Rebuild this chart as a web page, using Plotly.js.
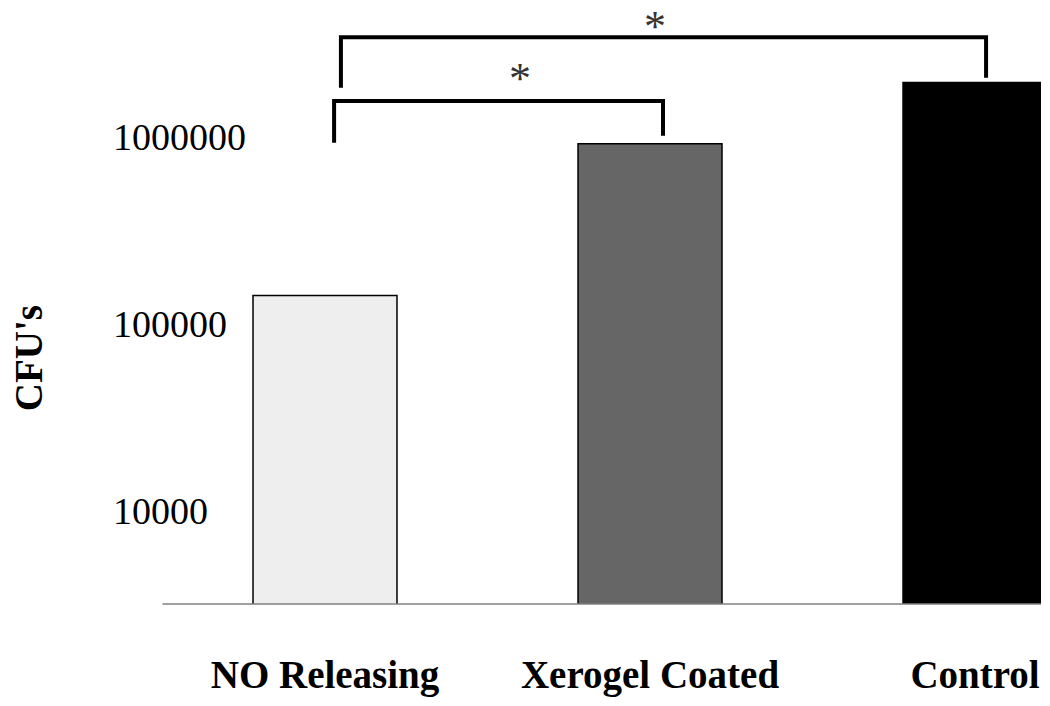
<!DOCTYPE html>
<html>
<head>
<meta charset="utf-8">
<script src="https://cdn.plot.ly/plotly-3.0.1.min.js"></script>
<style>
  body { margin: 0; background: #fff; }
  #chart { width: 1050px; height: 706px; }
</style>
</head>
<body>
<div id="chart"></div>
<script>
// data (log scale)
var groups = ['NO Releasing', 'Xerogel Coated', 'Control'];
var cfus = [142000, 920000, 1960000];
var barColors = ['#eeeeee', '#666666', '#000000'];
var yTicks = [10000, 100000, 1000000];
var yTickText = ['10000', '100000', '1000000'];

// significance brackets: [from group, to group, left leg bottom, bar height, right leg bottom]
var brackets = [
  [0.028, 1.04, 933000, 1560000, 1016000],
  [0.049, 2.034, 1840000, 3420000, 2080000]
];
// asterisks: [x, top of text box]
var starPos = [[0.6, 2840000], [1.015, 5420000]];

var serif = 'Liberation Serif, Times New Roman, serif';

var trace = {
  type: 'bar',
  x: groups,
  y: cfus,
  width: 0.443,
  marker: {
    color: barColors,
    line: { color: '#000000', width: 1.5 }
  },
  hoverinfo: 'x+y'
};

var shapes = [];
// the baseline starts at the first category's left half
shapes.push({
  type: 'line', xref: 'x', yref: 'paper',
  x0: -0.5, x1: 2.21, y0: 0, y1: 0,
  line: { color: '#808080', width: 1.5 }
});
brackets.forEach(function (b) {
  var path = 'M ' + b[0] + ',' + b[2] +
    ' L ' + b[0] + ',' + b[3] +
    ' L ' + b[1] + ',' + b[3] +
    ' L ' + b[1] + ',' + b[4];
  shapes.push({
    type: 'path', xref: 'x', yref: 'y', path: path,
    line: { color: '#000000', width: 4 }
  });
});

var annotations = starPos.map(function (s) {
  return {
    xref: 'x', yref: 'y', x: s[0], y: Math.log10(s[1]),
    yanchor: 'top',
    text: '*', showarrow: false,
    font: { family: serif, size: 44, color: '#333333' }
  };
});
annotations.push({
  xref: 'paper', yref: 'paper', x: -0.088, y: 0.407,
  xanchor: 'center', yanchor: 'middle',
  text: "<b>CFU's</b>", textangle: -90, showarrow: false,
  font: { family: serif, size: 39, color: '#000000' }
});

var layout = {
  width: 1050,
  height: 706,
  margin: { l: 110, r: 9, t: 0, b: 102 },
  paper_bgcolor: '#ffffff',
  plot_bgcolor: '#ffffff',
  showlegend: false,
  xaxis: {
    type: 'category',
    range: [-0.6615, 2.203],
    showline: false,
    showgrid: false,
    zeroline: false,
    ticks: '',
    tickvals: groups,
    ticktext: groups.map(function (g) { return '<b>' + g + '</b>'; }),
    ticklabelstandoff: 44,
    tickfont: { family: serif, size: 39, color: '#000000' }
  },
  yaxis: {
    type: 'log',
    range: [3.5, 6.734],
    showline: false,
    showgrid: false,
    zeroline: false,
    ticks: '',
    tickvals: yTicks,
    ticktext: yTickText,
    ticklabelposition: 'inside',
    tickfont: { family: serif, size: 38, color: '#000000' }
  },
  shapes: shapes,
  annotations: annotations
};

Plotly.newPlot('chart', [trace], layout, { displayModeBar: false, staticPlot: true });
</script>
</body>
</html>
